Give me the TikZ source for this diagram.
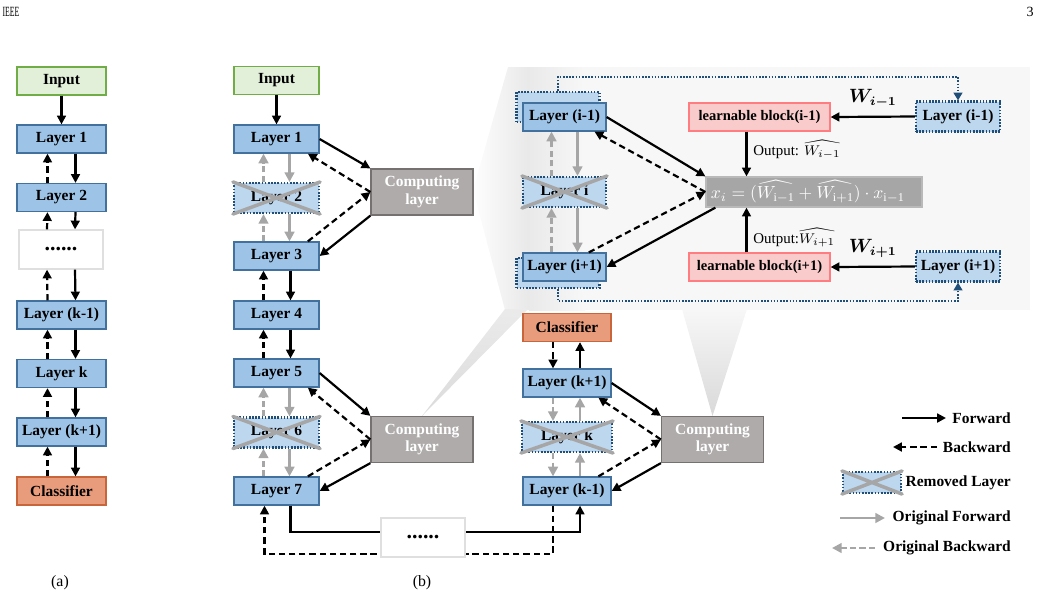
\documentclass[tikz,border=0pt]{standalone}
\usepackage{amsmath,amssymb}
\usepackage{bm}
\usepackage{fontspec}
\setmainfont{Liberation Serif}
\usetikzlibrary{arrows.meta, calc, positioning}

\definecolor{layerblue}{HTML}{9DC3E6}
\definecolor{layeredge}{HTML}{41719C}
\definecolor{removedfill}{HTML}{BDD7EE}
\definecolor{dotblue}{HTML}{1F4E79}
\definecolor{inputfill}{HTML}{E2F0D9}
\definecolor{inputedge}{HTML}{70AD47}
\definecolor{clsfill}{HTML}{E99C7C}
\definecolor{clsedge}{HTML}{C9653B}
\definecolor{compfill}{HTML}{AFABAB}
\definecolor{compedge}{HTML}{767171}
\definecolor{learnfill}{HTML}{F9CBCB}
\definecolor{learnedge}{HTML}{FF7C80}
\definecolor{formfill}{HTML}{A6A6A6}
\definecolor{origgray}{HTML}{A6A6A6}

\begin{document}
\begin{tikzpicture}[x=0.02cm, y=-0.02cm,
    font=\fontsize{8.8}{10}\selectfont\bfseries,
    box/.style={draw, line width=0.7pt, inner sep=0pt, minimum height=0.56cm, align=center},
    layer/.style={box, draw=layeredge, fill=layerblue, minimum width=#1},
    layer/.default=1.7cm,
    removed/.style={box, draw=dotblue, fill=removedfill, line width=1.2pt, dash pattern=on 0.9pt off 0.9pt, minimum height=0.6cm, minimum width=#1},
    removed/.default=1.7cm,
    inbox/.style={box, draw=inputedge, fill=inputfill, minimum width=#1},
    clsbox/.style={box, draw=clsedge, fill=clsfill, minimum width=#1},
    compbox/.style={box, draw=compedge, fill=compfill, text=white, minimum width=2.04cm, minimum height=0.92cm},
    dotsbox/.style={box, draw=gray!25, fill=white, minimum width=1.68cm, minimum height=0.78cm, font=\fontsize{12.5}{12}\selectfont\bfseries},
    learnbox/.style={box, draw=learnedge, fill=learnfill, minimum width=2.82cm, font=\fontsize{8.3}{10}\selectfont\bfseries},
    fwd/.style={-{Triangle[length=5pt,width=5pt]}, line width=1.25pt},
    bwd/.style={fwd, dash pattern=on 3.6pt off 2.2pt},
    ofwd/.style={-{Triangle[length=5.5pt,width=5.5pt]}, line width=1.6pt, draw=origgray},
    obwd/.style={ofwd, dash pattern=on 3.6pt off 1.8pt},
    link/.style={-{Triangle[length=4.5pt,width=5pt]}, line width=1.3pt, draw=dotblue, dash pattern=on 0.9pt off 0.9pt},
    xmark/.style={line width=2pt, draw=origgray, line cap=round},
  ]
  \useasboundingbox (0,0) rectangle (1041,600);

  % Page header
  \node[font=\fontsize{8}{9}\selectfont] at (11,12) {\scalebox{0.55}[1]{IEEE}};
  \node[font=\fontsize{8}{9}\selectfont] at (1030,12) {3};

  % Zoom callout (background)
  \fill[gray!6] (528,67) rectangle (1030,310);
  \shade[left color=gray!1, right color=gray!18] (508,67) -- (473,190) -- (505,310) -- (530,310) -- (530,67) -- cycle;
  \shade[left color=gray!17, right color=gray!6] (529,67) rectangle (585,310);
  \shade[top color=gray!16, bottom color=gray!28] (505,309) -- (422,416) -- (528,309) -- cycle;
  \shade[top color=gray!6, bottom color=gray!30] (682,309) -- (712.5,416) -- (747,309) -- cycle;

  % (a) plain backbone
  \node[inbox=1.78cm] (ain) at (61.5,81) {Input};
  \node[layer=1.78cm] (a1) at (61.5,139) {Layer 1};
  \node[layer=1.78cm] (a2) at (61.5,197.5) {Layer 2};
  \node[dotsbox] (adots) at (61,249.5) {......};
  \node[layer=1.78cm] (akm) at (61.5,315) {Layer (k-1)};
  \node[layer=1.78cm] (ak) at (61.5,373.5) {Layer k};
  \node[layer=1.78cm] (akp) at (61.5,432) {Layer (k+1)};
  \node[clsbox=1.78cm] (acls) at (61.5,491) {Classifier};
  \draw[fwd] (ain) -- (a1);
  \foreach \u/\d in {a1/a2, a2/adots, adots/akm, akm/ak, ak/akp, akp/acls} {
    \draw[fwd] ($(\u.south)+(14,0)$) -- ($(\d.north)+(14,0)$);
    \draw[bwd] ($(\d.north)+(-14,0)$) -- ($(\u.south)+(-14,0)$);
  }
  \node[font=\fontsize{9}{10}\selectfont\mdseries] at (60,583) {(a)};

  % (b) pruned backbone, left column
  \node[inbox=1.7cm] (bin) at (276.5,80.5) {Input};
  \node[layer] (b1) at (276.5,139) {Layer 1};
  \node[removed] (b2) at (276.5,198) {Layer 2};
  \node[layer] (b3) at (276.5,256) {Layer 3};
  \node[layer] (b4) at (276.5,315) {Layer 4};
  \node[layer] (b5) at (276.5,373) {Layer 5};
  \node[removed] (b6) at (276.5,432.5) {Layer 6};
  \node[layer] (b7) at (276.5,491) {Layer 7};

  % (b) right column
  \node[clsbox=1.76cm] (ccls) at (567,327.5) {Classifier};
  \node[layer=1.76cm] (ckp) at (567,383) {Layer (k+1)};
  \node[removed=1.8cm] (ck) at (567,437) {Layer k};
  \node[layer=1.76cm] (ckm) at (567,491) {Layer (k-1)};

  % Computing layers
  \node[compbox] (comp1) at (422,192) {Computing\\layer};
  \node[compbox] (comp2) at (422,439.5) {Computing\\layer};
  \node[compbox] (comp3) at (712.5,439.5) {Computing\\layer};

  \draw[fwd] (bin) -- (b1);
  \foreach \u/\d in {b1/b2, b2/b3, b5/b6, b6/b7} {
    \draw[ofwd] ($(\u.south)+(13,0)$) -- ($(\d.north)+(13,0)$);
    \draw[obwd] ($(\d.north)+(-13,0)$) -- ($(\u.south)+(-13,0)$);
  }
  \foreach \u/\d in {b3/b4, b4/b5} {
    \draw[fwd] ($(\u.south)+(14,0)$) -- ($(\d.north)+(14,0)$);
    \draw[bwd] ($(\d.north)+(-13,0)$) -- ($(\u.south)+(-13,0)$);
  }
  \foreach \u/\d in {ckp/ck, ck/ckm} {
    \draw[obwd] ($(\u.south)+(-14,0)$) -- ($(\d.north)+(-14,0)$);
    \draw[ofwd] ($(\d.north)+(13,0)$) -- ($(\u.south)+(13,0)$);
  }
  \draw[bwd] ($(ccls.south)+(-14,0)$) -- ($(ckp.north)+(-14,0)$);
  \draw[fwd] ($(ckp.north)+(13,0)$) -- ($(ccls.south)+(13,0)$);

  % Skip connections through the computing layers
  \foreach \u/\c/\d in {b1/comp1/b3, b5/comp2/b7, ckp/comp3/ckm} {
    \draw[fwd] (\u.east) -- (\c.north west);
    \draw[bwd] (\c.west) -- (\u.-25);
    \draw[bwd] (\d.25) -- (\c.west);
    \draw[fwd] (\c.south west) -- (\d.east);
  }

  % Bottom link between the two columns
  \draw[fwd] ($(b7.south)+(14,0)$) -- ++(0,26) -| ($(ckm.south)+(13,0)$);
  \draw[bwd] ($(ckm.south)+(-14,0)$) -- ++(0,48) -| ($(b7.south)+(-12,0)$);
  \node[dotsbox] (bdots) at (423,537.5) {......};
  \node[font=\fontsize{9}{10}\selectfont\mdseries] at (422,583) {(b)};

  % Inside the callout
  \node[removed=1.66cm] (lprevbk) at (558,107) {};
  \node[layer=1.66cm] (lprev) at (564.5,117) {Layer (i-1)};
  \node[removed=1.66cm] (lcur) at (564.5,192) {Layer i};
  \node[removed=1.66cm] (lnextbk) at (558,273) {};
  \node[layer=1.66cm] (lnext) at (564.5,267) {Layer (i+1)};
  \node[learnbox] (blkprev) at (759.5,117) {learnable block(i-1)};
  \node[learnbox] (blknext) at (759.5,267) {learnable block(i+1)};
  \node[removed=1.68cm] (rprev) at (958,116.5) {Layer (i-1)};
  \node[removed=1.68cm] (rnext) at (958,266.5) {Layer (i+1)};
  \node[box, draw=gray!55, fill=formfill, minimum width=4.32cm, minimum height=0.6cm, text=white, font=\fontsize{9.8}{11}\selectfont] (fml) at (814,192)
    {$x_i=(\widehat{W_{\mathrm{i-1}}}+\widehat{W_{\mathrm{i+1}}})\cdot x_{\mathrm{i-1}}$\hspace{0.25cm}};

  \foreach \u/\d in {lprev/lcur, lcur/lnext} {
    \draw[ofwd] ($(\u.south)+(13,0)$) -- ($(\d.north)+(13,0)$);
    \draw[obwd] ($(\d.north)+(-13,0)$) -- ($(\u.south)+(-13,0)$);
  }
  \draw[fwd] (lprev.east) -- (fml.north west);
  \draw[bwd] (fml.west) -- (lprev.-26);
  \draw[bwd] (lnext.31) -- (fml.west);
  \draw[fwd] (fml.189) -- (lnext.east);

  \draw[fwd] (rprev.west) -- node[above=1pt, font=\fontsize{10.5}{12}\selectfont] {$\bm{W_{i-1}}$} (blkprev.east);
  \draw[fwd] (rnext.west) -- node[above=1pt, font=\fontsize{10.5}{12}\selectfont] {$\bm{W_{i+1}}$} (blknext.east);
  \draw[fwd] ($(blkprev.south)+(-13,0)$) coordinate (oprev) -- node[pos=0.4, right, font=\fontsize{8.5}{10}\selectfont\mdseries] {Output: $\widehat{W_{i-1}}$} (oprev |- fml.north);
  \draw[fwd] ($(blknext.north)+(-13,0)$) coordinate (onext) -- node[pos=0.33, right, font=\fontsize{8.5}{10}\selectfont\mdseries] {Output:$\widehat{W_{i+1}}$} (onext |- fml.south);

  \draw[link] (lprevbk.north) -- ++(0,-14) -| (rprev.north);
  \draw[link] (lnextbk.south) -- ++(0,12) -| (rnext.south);

  % Legend
  \draw[fwd] (902,418) -- (946,418);
  \node[anchor=east] at (1017,418) {Forward};
  \draw[bwd] (937,447) -- (893,447);
  \node[anchor=east] at (1017,447) {Backward};
  \node[removed=1.16cm, minimum height=0.42cm] (legx) at (872,482.5) {};
  \node[anchor=east] at (1017,483) {Removed Layer};
  \draw[ofwd] (840,518) -- (885,518);
  \node[anchor=east] at (1017,518) {Original Forward};
  \draw[obwd] (875,548) -- (832,548);
  \node[anchor=east] at (1017,548) {Original Backward};

  % Crosses on removed layers
  \foreach \n in {b2, b6, ck, lcur, legx}
    \draw[xmark] (\n.north west) -- (\n.south east) (\n.south west) -- (\n.north east);
\end{tikzpicture}
\end{document}
